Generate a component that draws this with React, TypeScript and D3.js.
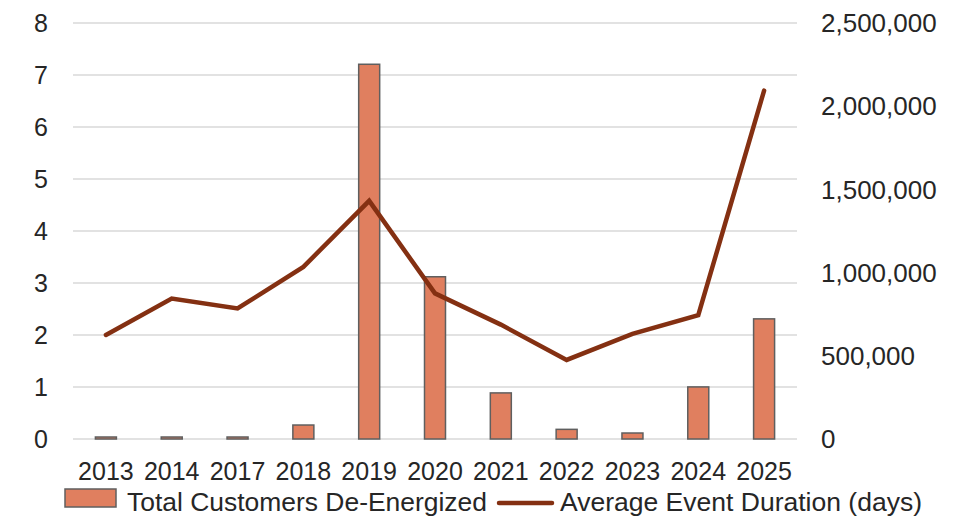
import React from "react";
import * as d3 from "d3";

const categories = ["2013", "2014", "2017", "2018", "2019", "2020", "2021", "2022", "2023", "2024", "2025"];
const customersDeEnergized = [12000, 12000, 12000, 84000, 2252000, 975000, 277000, 58000, 36000, 313000, 722000];
const avgDurationDays = [2.0, 2.7, 2.51, 3.31, 4.58, 2.8, 2.2, 1.52, 2.02, 2.38, 6.7];
const leftTicks = [0, 1, 2, 3, 4, 5, 6, 7, 8];
const rightTicks = [0, 500000, 1000000, 1500000, 2000000, 2500000];

const W = 969;
const H = 518;
const M = { left: 73, right: 172, top: 23, bottom: 79 };
const FONT = "'Liberation Sans', Arial, sans-serif";

export default function App() {
  const band = d3.scaleBand<string>().domain(categories).range([M.left, W - M.right]);
  const yL = d3.scaleLinear().domain([0, 8]).range([H - M.bottom, M.top]);
  const yR = d3.scaleLinear().domain([0, 2500000]).range([H - M.bottom, M.top]);
  const fmt = d3.format(",");
  const cx = (c: string) => band(c)! + band.bandwidth() / 2;
  const line = d3
    .line<number>()
    .x((_, i) => cx(categories[i]))
    .y((d) => yL(d));

  return (
    <svg width={W} height={H} style={{ position: "absolute", left: 0, top: 0, background: "#fff" }} fontFamily={FONT}>
      {leftTicks.map((t) => (
        <line key={"g" + t} x1={M.left} x2={W - M.right} y1={yL(t)} y2={yL(t)} stroke="#d9d9d9" strokeWidth={1.5} />
      ))}
      {leftTicks.map((t) => (
        <text key={"l" + t} x={48} y={yL(t)} dy="0.35em" textAnchor="end" fontSize={25} fill="#262626">
          {t}
        </text>
      ))}
      {rightTicks.map((t) => (
        <text key={"r" + t} x={821} y={yR(t)} dy="0.35em" textAnchor="start" fontSize={26} fill="#262626">
          {fmt(t)}
        </text>
      ))}
      {categories.map((c, i) => (
        <rect
          key={"b" + c}
          x={cx(c) - 10.5}
          width={21}
          y={yR(customersDeEnergized[i])}
          height={yR(0) - yR(customersDeEnergized[i])}
          fill="#E07F5F"
          stroke="#5f5f5f"
          strokeWidth={1.5}
        />
      ))}
      <path d={line(avgDurationDays)!} fill="none" stroke="#843012" strokeWidth={4.5} strokeLinejoin="miter" strokeLinecap="round" />
      {categories.map((c) => (
        <text key={"x" + c} x={cx(c)} y={480} textAnchor="middle" fontSize={25} fill="#262626">
          {c}
        </text>
      ))}
      <rect x={65} y={489} width={51} height={18} fill="#E07F5F" stroke="#5f5f5f" strokeWidth={1.5} />
      <text x={127} y={511} fontSize={25} fill="#262626" textLength={360} lengthAdjust="spacingAndGlyphs">
        Total Customers De-Energized
      </text>
      <line x1={499} x2={552} y1={503} y2={503} stroke="#843012" strokeWidth={4.5} strokeLinecap="round" />
      <text x={560} y={511} fontSize={25} fill="#262626" textLength={362} lengthAdjust="spacingAndGlyphs">
        Average Event Duration (days)
      </text>
    </svg>
  );
}
